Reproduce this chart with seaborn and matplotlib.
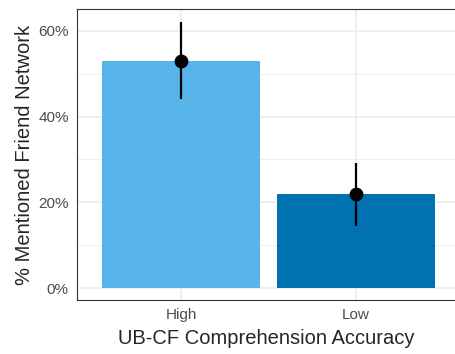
import matplotlib
matplotlib.use("Agg")
import matplotlib.pyplot as plt
import seaborn as sns
import pandas as pd
from matplotlib.ticker import FuncFormatter, MultipleLocator

# values
accuracy = ["High", "Low"]
mentioned = [0.530, 0.219]
ci_low = [0.442, 0.145]
ci_high = [0.620, 0.291]
bar_colors = ["#56B4E9", "#0072B2"]

df = pd.DataFrame({"acc": accuracy, "pct": mentioned})

sns.set_style("white")
plt.rcParams["font.family"] = ["Liberation Sans", "DejaVu Sans"]

fig = plt.figure(figsize=(4.56, 3.54), dpi=100)
ax = fig.add_axes([0.169, 0.1525, 0.831, 0.822])

sns.barplot(data=df, x="acc", y="pct", hue="acc", palette=bar_colors,
            width=0.9, legend=False, ax=ax, zorder=2, linewidth=0, saturation=1)

# error bars + point
xs = list(range(len(accuracy)))
ax.vlines(xs, ci_low, ci_high, color="black", linewidth=1.6, zorder=3)
ax.scatter(xs, mentioned, s=80, color="black", zorder=4)

ax.set_xlim(-0.594, 1.571)
ax.set_ylim(-0.028, 0.651)
ax.yaxis.set_major_locator(MultipleLocator(0.2))
ax.yaxis.set_minor_locator(MultipleLocator(0.1))
ax.yaxis.set_major_formatter(FuncFormatter(lambda v, p: f"{v*100:.0f}%"))

# theme_bw-ish grid
ax.set_axisbelow(True)
ax.grid(True, which="major", color="#EBEBEB", linewidth=1.1, zorder=0)
ax.grid(True, which="minor", axis="y", color="#EBEBEB", linewidth=0.6, zorder=0)
for s in ax.spines.values():
    s.set_color("#333333")
    s.set_linewidth(0.8)

ax.tick_params(axis="both", which="major", length=4, width=0.8, color="#333333",
               labelcolor="#4D4D4D", labelsize=11, pad=2)
ax.tick_params(axis="y", which="minor", length=0)

ax.set_xlabel("UB-CF Comprehension Accuracy", fontsize=14.5, labelpad=5)
ax.set_ylabel("% Mentioned Friend Network", fontsize=14.5, labelpad=3)

fig.savefig("out.png", dpi=100)
